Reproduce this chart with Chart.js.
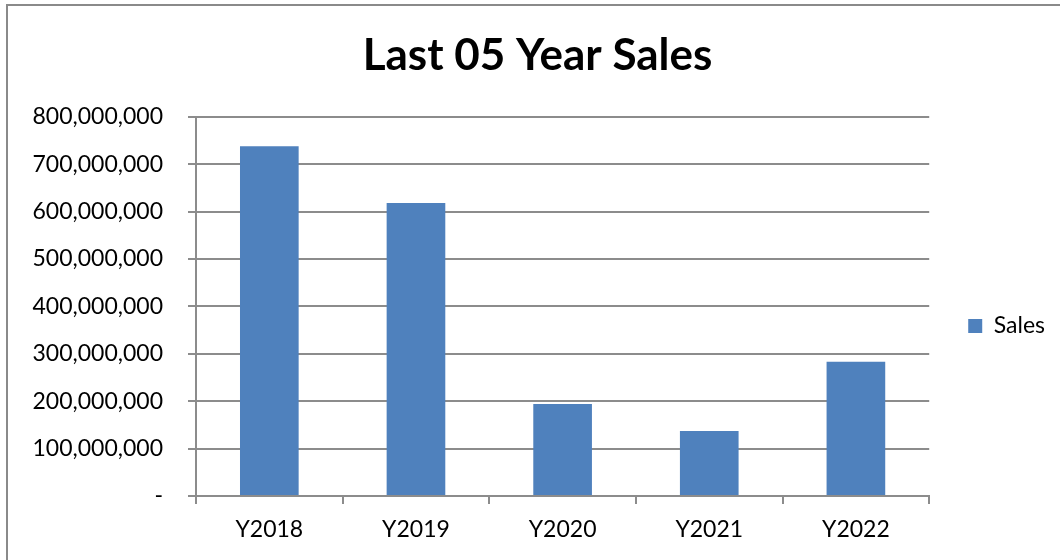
<!DOCTYPE html>
<html lang="en">
<head>
    <meta charset="UTF-8">
    <title>Last 05 Year Sales</title>
    <style>
        body {
            margin: 0;
            background-color: white;
            overflow: hidden;
        }

        .frame {
            position: absolute;
            left: 6px;
            top: 4px;
            width: 1200px;
            height: 700px;
            border: 2px solid #8a8a8a;
        }

        .chart-box {
            position: absolute;
            left: 0;
            top: 0;
            width: 1060px;
            height: 560px;
        }
    </style>
    <script src="https://cdn.jsdelivr.net/npm/chart.js"></script>
</head>
<body>

    <div class="frame"></div>
    <div class="chart-box">
        <canvas id="salesChart" width="1060" height="560"></canvas>
    </div>

    <script>
        // Chart data
        const categories = ['Y2018', 'Y2019', 'Y2020', 'Y2021', 'Y2022'];
        const salesValues = [738000000, 618000000, 194000000, 137000000, 283000000];
        const yTickValues = [0, 100000000, 200000000, 300000000, 400000000, 500000000, 600000000, 700000000, 800000000];

        const fontName = 'Lato, "Open Sans", sans-serif';
        const gridGray = '#8c8c8c';

        const ctx = document.getElementById('salesChart').getContext('2d');
        new Chart(ctx, {
            type: 'bar',
            data: {
                labels: categories,
                datasets: [{
                    label: 'Sales',
                    data: salesValues,
                    backgroundColor: '#4f81bd',
                    borderWidth: 0,
                    barPercentage: 0.4,
                    categoryPercentage: 1.0
                }]
            },
            options: {
                responsive: false,
                animation: false,
                layout: {
                    padding: { left: 20, right: 5, top: 0, bottom: 0 }
                },
                plugins: {
                    title: {
                        display: true,
                        text: 'Last 05 Year Sales',
                        color: '#000',
                        font: { family: fontName, size: 44, weight: 'bold' },
                        padding: { top: 29, bottom: 35 }
                    },
                    legend: {
                        position: 'right',
                        // blank legend title just pushes the entry down
                        title: {
                            display: true,
                            text: ' ',
                            font: { size: 10 },
                            padding: { top: 0, bottom: 80 }
                        },
                        labels: {
                            boxWidth: 14,
                            boxHeight: 14,
                            color: '#000',
                            padding: 10,
                            font: { family: fontName, size: 23 }
                        }
                    },
                    tooltip: { enabled: false }
                },
                scales: {
                    x: {
                        grid: {
                            display: true,
                            drawOnChartArea: false,
                            drawTicks: true,
                            tickLength: 8,
                            color: gridGray,
                            lineWidth: 2
                        },
                        border: { display: true, color: gridGray, width: 2 },
                        ticks: {
                            color: '#000',
                            padding: 12,
                            font: { family: fontName, size: 23 }
                        },
                        afterFit: function(scale) {
                            scale.height = 64;
                        }
                    },
                    y: {
                        min: 0,
                        max: 800000000,
                        afterBuildTicks: function(scale) {
                            scale.ticks = yTickValues.map(v => ({ value: v }));
                        },
                        grid: {
                            color: gridGray,
                            lineWidth: 2,
                            drawTicks: true,
                            tickLength: 8
                        },
                        border: { display: true, color: gridGray, width: 2 },
                        ticks: {
                            color: '#000',
                            padding: 25,
                            font: { family: fontName, size: 23 },
                            callback: function(value) {
                                return value === 0 ? '-' : value.toLocaleString('en-US');
                            }
                        },
                        afterFit: function(scale) {
                            scale.width = 176;
                        }
                    },
                    // empty axis, only keeps the gap between plot and legend
                    gap: {
                        type: 'linear',
                        position: 'right',
                        display: true,
                        grid: { display: false },
                        border: { display: false },
                        ticks: { display: false },
                        afterFit: function(scale) {
                            scale.width = 29;
                        }
                    }
                }
            }
        });
    </script>

</body>
</html>
